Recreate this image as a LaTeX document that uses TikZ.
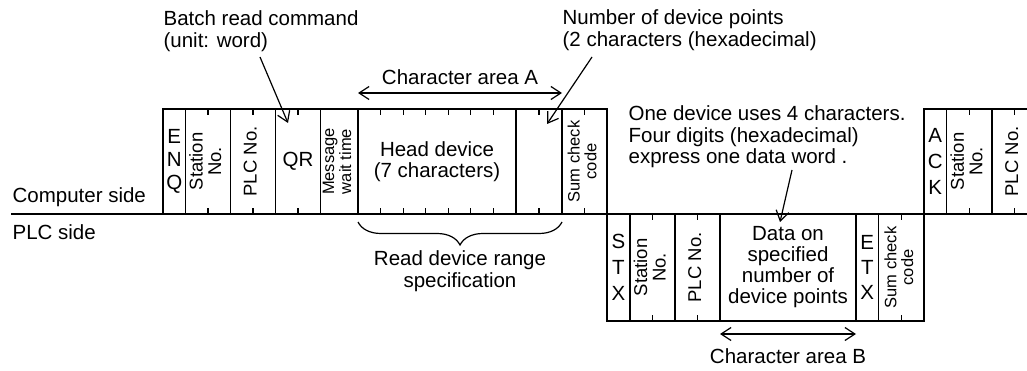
\documentclass[tikz,border=0pt]{standalone}
\usepackage{fontspec}
\setmainfont{Liberation Sans}
\usetikzlibrary{arrows.meta,calc,positioning,decorations.pathreplacing}
\tikzset{
  field/.style={draw,rectangle,line width=1.2pt,inner sep=0pt,outer sep=0pt,align=center,font=\fontsize{20.5}{21}\selectfont},
  upper/.style={field,minimum height=105},
  lower/.style={field,minimum height=107},
  note/.style={inner sep=0pt,align=left,font=\fontsize{20.5}{21.5}\selectfont},
  tick/.style={line width=1.2pt}
}
\newcommand{\vlab}[2][18.5]{\rotatebox{90}{\fontsize{#1}{#1}\selectfont\begin{tabular}{@{}c@{}}#2\end{tabular}}}

\begin{document}
\begin{tikzpicture}[x=1pt,y=-1pt,>={Straight Barb[length=10pt,width=13pt]},line width=1.2pt]
  \useasboundingbox (0,0) rectangle (1027,371);

  % computer -> PLC request
  \node[upper,minimum width=22.5,anchor=north west,font=\fontsize{20.5}{23}\selectfont] (enq) at (163,109) {E\\N\\Q};
  \node[upper,minimum width=45,right=0pt of enq] (stnA) {\vlab{Station\\No.}};
  \node[upper,minimum width=45,right=0pt of stnA] (plcA) {\vlab{PLC No.}};
  \node[upper,minimum width=45,right=0pt of plcA] (qr) {QR};
  \node[upper,minimum width=37.5,right=0pt of qr] (wait) {\vlab[16.5]{Message\\wait time}};
  \node[upper,minimum width=158,right=0pt of wait] (head) {Head device\\(7 characters)};
  \node[upper,minimum width=46,right=0pt of head] (npts) {};
  \node[upper,minimum width=45,right=0pt of npts] (sumA) {\vlab[16.5]{Sum check\\code}};

  % PLC -> computer response
  \node[lower,minimum width=23,anchor=north west,font=\fontsize{20.5}{26}\selectfont] (stx) at (607,214) {S\\T\\X};
  \node[lower,minimum width=45,right=0pt of stx] (stnB) {\vlab{Station\\No.}};
  \node[lower,minimum width=45,right=0pt of stnB] (plcB) {\vlab{PLC No.}};
  \node[lower,minimum width=136,right=0pt of plcB] (data) {Data on\\specified\\number of\\device points};
  \node[lower,minimum width=22.5,right=0pt of data,font=\fontsize{20.5}{25}\selectfont] (etx) {E\\T\\X};
  \node[lower,minimum width=45.5,right=0pt of etx] (sumB) {\vlab[16.5]{Sum check\\code}};

  % acknowledge
  \node[upper,minimum width=22.5,anchor=north west,font=\fontsize{20.5}{26}\selectfont] (ack) at (924,109) {A\\C\\K};
  \node[upper,minimum width=45.5,right=0pt of ack] (stnC) {\vlab{Station\\No.}};
  \node[upper,minimum width=45,right=0pt of stnC] (plcC) {\vlab{PLC No.}};

  % character ticks
  \foreach \f/\n in {stnA/2,plcA/2,qr/2,head/7,npts/2,sumA/2,stnB/2,plcB/2,sumB/2,stnC/2,plcC/2}{
    \pgfmathtruncatemacro\m{\n-1}
    \foreach \k in {1,...,\m}{
      \draw[tick] ($(\f.north west)!{\k/\n}!(\f.north east)$) -- ++(0,6);
      \draw[tick] ($(\f.south west)!{\k/\n}!(\f.south east)$) -- ++(0,-6);
    }
  }

  % time line
  \coordinate (lineL) at (11,214);
  \coordinate (lineR) at (1027,214);
  \draw[line width=1.8pt] (lineL) -- (lineR);
  \node[note,anchor=base west] (comp) at (12,203) {Computer side};
  \node[note,anchor=base west] (plcside) at (12,240) {PLC side};

  % notes
  \node[note,anchor=west] (bcmd) at (163,31) {Batch read command\\(unit: word)};
  \coordinate (bcmdpt) at (260,57);
  \coordinate (qrpt) at ($(qr.north west)+(12.5,14)$);
  \draw[->] (bcmdpt) -- (qrpt);

  \node[note,anchor=base] (areaA) at (460,85) {Character area A};
  \draw[<->] ($(head.north west)+(0,-16)$) -- ($(sumA.north west)+(0,-16)$);

  \node[note,anchor=west] (nptsnote) at (562,30) {Number of device points\\(2 characters (hexadecimal)};
  \coordinate (nptspt) at (592,57);
  \coordinate (nptstip) at ($(npts.north west)+(31,15)$);
  \draw[->] (nptspt) -- (nptstip);

  \node[note,anchor=west] (datanote) at (628,137) {One device uses 4 characters.\\Four digits (hexadecimal)\\express one data word .};
  \coordinate (datapt) at (792,170);
  \coordinate (datatip) at ($(data.north west)+(60,8)$);
  \draw[->] (datapt) -- (datatip);

  \draw[decorate,decoration={brace,mirror,amplitude=23pt}] ($(head.south west)+(0,8)$) -- ($(npts.south east)+(0,8)$);
  \node[note,align=center] (rdr) at (460,271) {Read device range\\specification};

  \draw[<->] ($(data.south west)+(0,13)$) -- ($(data.south east)+(0,13)$);
  \node[note,anchor=base] (areaB) at (788,363) {Character area B};
\end{tikzpicture}
\end{document}
